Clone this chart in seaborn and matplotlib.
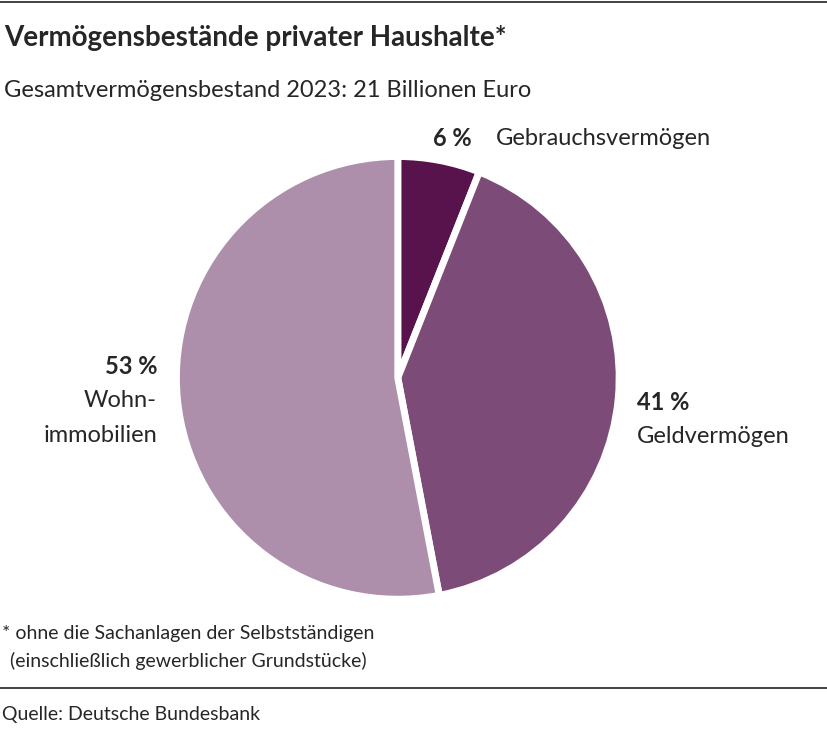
import matplotlib
matplotlib.use("Agg")
import matplotlib.pyplot as plt
import seaborn as sns
from matplotlib.lines import Line2D

categories = ["Gebrauchsvermögen", "Geldvermögen", "Wohnimmobilien"]
values = [6, 41, 53]
colors = ["#58124c", "#7c4b77", "#ad8fab"]

sns.set_theme(style="white", font="Lato")
fig = plt.figure(figsize=(8.27, 7.38), dpi=100)
fig.patch.set_facecolor("white")

ax = fig.add_axes([0.481 - 0.2733, 0.488 - 0.306, 0.5466, 0.612])
ax.pie(values, colors=colors, startangle=90, counterclock=False,
       wedgeprops=dict(edgecolor="white", linewidth=5), radius=1.0)
ax.set_aspect("equal")
ax.set_xlim(-1.02, 1.02); ax.set_ylim(-1.02, 1.02)
ax.axis("off")

fs = 17
fig.text(0.005, 0.948, "Vermögensbestände privater Haushalte*", fontsize=20, fontweight="bold", va="center")
fig.text(0.005, 0.878, "Gesamtvermögensbestand 2023: 21 Billionen Euro", fontsize=fs, va="center")

fig.text(0.523, 0.812, f"{values[0]} %", fontsize=fs, fontweight="bold", va="center")
fig.text(0.600, 0.812, categories[0], fontsize=fs, va="center")
fig.text(0.77, 0.455, f"{values[1]} %", fontsize=fs, fontweight="bold", va="center")
fig.text(0.77, 0.408, categories[1], fontsize=fs, va="center")
fig.text(0.19, 0.503, f"{values[2]} %", fontsize=fs, fontweight="bold", va="center", ha="right")
fig.text(0.19, 0.457, "Wohn-", fontsize=fs, va="center", ha="right")
fig.text(0.19, 0.410, "immobilien", fontsize=fs, va="center", ha="right")

fig.text(0.002, 0.142, "* ohne die Sachanlagen der Selbstständigen", fontsize=14, va="center")
fig.text(0.012, 0.104, "(einschließlich gewerblicher Grundstücke)", fontsize=14, va="center")
fig.text(0.002, 0.032, "Quelle: Deutsche Bundesbank", fontsize=14, va="center")

fig.add_artist(Line2D([0, 1], [0.997, 0.997], color="#222222", lw=1.2))
fig.add_artist(Line2D([0, 1], [0.068, 0.068], color="#222222", lw=1.2))

fig.savefig("out.png", dpi=100)
